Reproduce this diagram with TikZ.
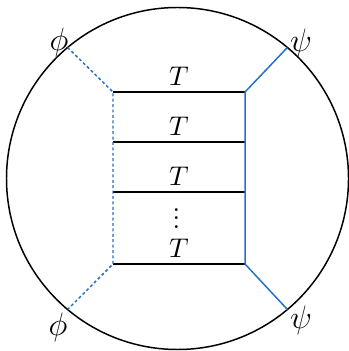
\documentclass[tikz,border=0pt]{standalone}
\begin{document}
\definecolor{lineblue}{RGB}{36,113,200}
\newcommand{\myvdots}{\vbox{\baselineskip3.15pt\lineskiplimit-10pt\hbox{.}\hbox{.}\hbox{.}}}
\begin{tikzpicture}[x=0.37pt,y=-0.37pt,
  edge/.style={line width=0.55pt, black},
  bline/.style={line width=0.55pt, lineblue},
  bdash/.style={line width=0.55pt, lineblue, dash pattern=on 1.1pt off 0.9pt},
  tlabel/.style={inner sep=2pt},
  extlabel/.style={inner sep=0pt, font=\fontsize{13}{15}\selectfont}]
\useasboundingbox (0,0) rectangle (348,351);
\coordinate (O) at (177.5,178.5);
\draw[edge] (O) circle (171);
% box corners
\coordinate (a) at (113,92);
\coordinate (b) at (245,92);
\coordinate (c) at (113,142);
\coordinate (d) at (245,142);
\coordinate (e) at (113,192);
\coordinate (f) at (245,192);
\coordinate (g) at (113,264);
\coordinate (h) at (245,264);
% points on the circle
\coordinate (pu) at (67.6,47.5);
\coordinate (pd) at (67.6,309.5);
\coordinate (su) at (287.4,47.5);
\coordinate (sd) at (287.4,309.5);
% rungs
\draw[edge] (a) -- (b) node[midway, above, tlabel] (t1) {$T$};
\draw[edge] (c) -- (d) node[midway, above, tlabel] (t2) {$T$};
\draw[edge] (e) -- (f) node[midway, above, tlabel] (t3) {$T$};
\draw[edge] (g) -- (h) node[midway, above, tlabel] (t4) {$T$};
\node[anchor=base, inner sep=0pt] (dots) at (176.5,228.5) {\myvdots};
% blue lines
\draw[bline] (su) -- (b) -- (h) -- (sd);
\draw[bdash] (pu) -- (a) -- (g) -- (pd);
% labels
\node[extlabel] (lphi1) at (59,42) {$\phi$};
\node[extlabel] (lpsi1) at (301,43) {$\psi$};
\node[extlabel] (lphi2) at (58,327) {$\phi$};
\node[extlabel] (lpsi2) at (301,320) {$\psi$};
\end{tikzpicture}
\end{document}
